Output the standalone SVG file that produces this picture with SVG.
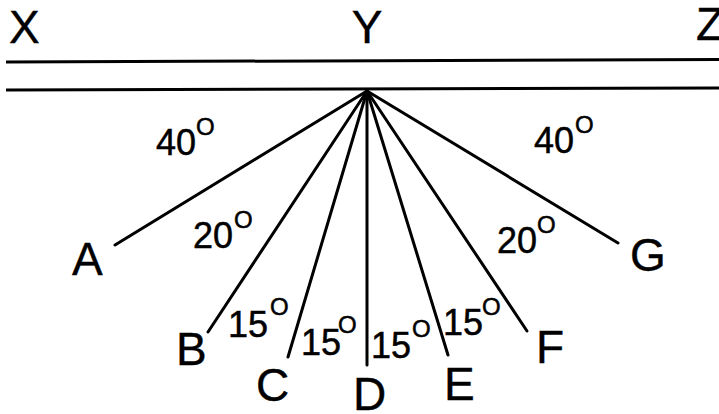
<svg xmlns="http://www.w3.org/2000/svg" width="719" height="414" viewBox="0 0 719 414">
<style>
.bg{fill:#fff}
.ln{stroke:#000;stroke-width:3;stroke-linecap:butt;fill:none}
.fan{stroke:#000;stroke-width:3;stroke-linecap:round;fill:none}
.lbl{font-family:"Liberation Sans",Arial,sans-serif;font-size:46px;fill:#000;stroke:#000;stroke-width:0.4}
.deg{font-family:"Liberation Sans",Arial,sans-serif;font-size:36px;fill:#000;stroke:#000;stroke-width:0.5}
.sup{font-size:24px}
</style>
<rect class="bg" x="0" y="0" width="719" height="414"/>
<g id="edges">
<line class="ln" x1="6" y1="62" x2="719" y2="59.5"/>
<line class="ln" x1="6" y1="90" x2="719" y2="88"/>
<line class="fan" x1="367" y1="91" x2="115" y2="245"/>
<line class="fan" x1="367" y1="91" x2="208" y2="332"/>
<line class="fan" x1="367" y1="91" x2="288" y2="357"/>
<line class="fan" x1="367" y1="91" x2="367" y2="365"/>
<line class="fan" x1="367" y1="91" x2="448" y2="355"/>
<line class="fan" x1="367" y1="91" x2="527" y2="331"/>
<line class="fan" x1="367" y1="91" x2="618" y2="243"/>
</g>
<g id="X"><text class="lbl" x="9" y="43">X</text></g>
<g id="Y"><text class="lbl" x="367" y="43" text-anchor="middle">Y</text></g>
<g id="Z"><text class="lbl" x="696" y="40">Z</text></g>
<g id="A"><text class="lbl" x="72" y="275">A</text></g>
<g id="B"><text class="lbl" x="176" y="365">B</text></g>
<g id="C"><text class="lbl" x="256" y="401">C</text></g>
<g id="D"><text class="lbl" x="353" y="410">D</text></g>
<g id="E"><text class="lbl" x="444" y="400">E</text></g>
<g id="F"><text class="lbl" x="536" y="363">F</text></g>
<g id="G"><text class="lbl" x="630" y="271">G</text></g>
<g id="angles">
<text class="deg" x="156" y="155">40<tspan class="sup" x="196" y="135">O</tspan></text>
<text class="deg" x="534" y="153">40<tspan class="sup" x="575" y="133">O</tspan></text>
<text class="deg" x="193" y="248">20<tspan class="sup" x="234" y="228">O</tspan></text>
<text class="deg" x="497" y="253">20<tspan class="sup" x="537" y="233">O</tspan></text>
<text class="deg" x="228" y="337">15<tspan class="sup" x="270" y="315">O</tspan></text>
<text class="deg" x="301" y="355">15<tspan class="sup" x="338" y="333">O</tspan></text>
<text class="deg" x="371" y="358">15<tspan class="sup" x="412" y="337">O</tspan></text>
<text class="deg" x="443" y="335">15<tspan class="sup" x="482" y="315">O</tspan></text>
</g>
</svg>
